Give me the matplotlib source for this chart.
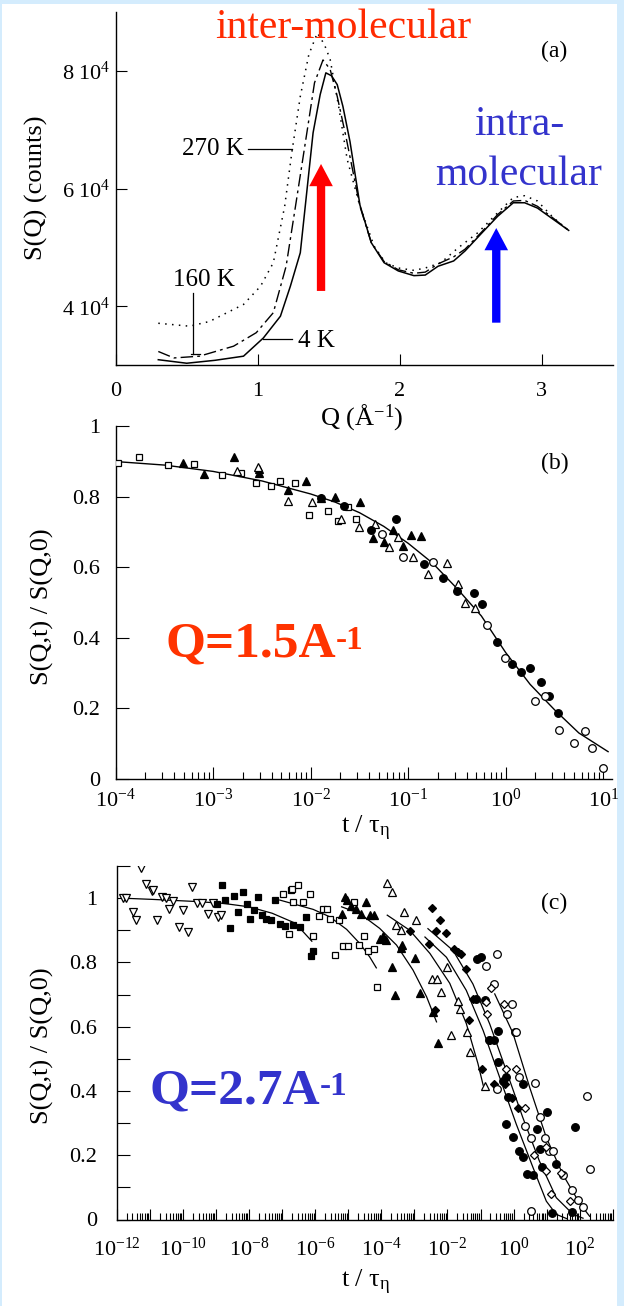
import numpy as np
import matplotlib
matplotlib.use("Agg")
import matplotlib.pyplot as plt
from matplotlib.patches import Rectangle, FancyArrowPatch
from matplotlib.ticker import FixedLocator, FixedFormatter, NullFormatter

plt.rcParams['font.family'] = ['Liberation Serif', 'DejaVu Serif']
plt.rcParams['mathtext.fontset'] = 'custom'
plt.rcParams['mathtext.rm'] = 'Liberation Serif'
plt.rcParams['mathtext.it'] = 'Liberation Serif:italic'
plt.rcParams['mathtext.bf'] = 'Liberation Serif:bold'

# ---------------- panel (a): static structure factor S(Q) ----------------
q_4k = [0.30, 0.50, 0.70, 0.90, 1.04, 1.16, 1.23, 1.30, 1.39, 1.44, 1.48, 1.52,
        1.56, 1.60, 1.65, 1.72, 1.80, 1.89, 1.99, 2.10, 2.18, 2.27, 2.38, 2.46,
        2.58, 2.69, 2.80, 2.88, 2.97, 3.08, 3.19]
s_4k = [3.09, 3.03, 3.08, 3.15, 3.46, 3.83, 4.34, 4.91, 6.95, 7.60, 7.97, 7.92,
        7.77, 7.40, 6.80, 5.72, 5.08, 4.74, 4.60, 4.52, 4.53, 4.68, 4.77, 4.94,
        5.25, 5.53, 5.76, 5.76, 5.67, 5.48, 5.29]

q_160k = [0.30, 0.41, 0.59, 0.83, 0.99, 1.11, 1.20, 1.27, 1.35, 1.40, 1.46, 1.51,
          1.56, 1.62, 1.72, 1.80, 1.89, 1.99, 2.10, 2.18, 2.27, 2.38, 2.46, 2.58,
          2.69, 2.80, 2.88, 2.97, 3.08, 3.19]
s_160k = [3.23, 3.12, 3.15, 3.32, 3.55, 3.89, 4.68, 5.76, 7.01, 7.80, 8.19, 8.03,
          7.57, 6.90, 5.70, 5.08, 4.76, 4.62, 4.56, 4.58, 4.72, 4.84, 4.97, 5.27,
          5.56, 5.79, 5.80, 5.70, 5.50, 5.29]

q_270k = [0.30, 0.52, 0.66, 0.90, 1.02, 1.11, 1.19, 1.24, 1.30, 1.36, 1.42, 1.47,
          1.51, 1.57, 1.63, 1.72, 1.82, 1.90, 1.99, 2.10, 2.18, 2.29, 2.41, 2.55,
          2.69, 2.80, 2.88, 2.97, 3.08, 3.19]
s_270k = [3.71, 3.66, 3.74, 4.03, 4.34, 4.74, 5.70, 6.61, 7.57, 8.28, 8.65, 8.45,
          8.20, 7.40, 6.50, 5.70, 5.02, 4.74, 4.65, 4.61, 4.65, 4.74, 4.99, 5.25,
          5.59, 5.85, 5.88, 5.79, 5.51, 5.29]

a_xticks = [0, 1, 2, 3]
a_yticks = [4e4, 6e4, 8e4]
a_yticklabels = [r'$4\ 10^{4}$', r'$6\ 10^{4}$', r'$8\ 10^{4}$']

# ---------------- panel (b): Q = 1.5 A^-1, log10(t/tau) and S(Q,t)/S(Q,0) --------
b_sq_open_logt = [-3.98, -3.76, -3.46, -3.20, -2.91, -2.71, -2.56, -2.41, -2.32,
                  -2.16, -2.02, -1.82, -1.72, -1.62, -1.54]
b_sq_open_val = [0.897, 0.914, 0.890, 0.892, 0.862, 0.868, 0.840, 0.832, 0.845,
                 0.840, 0.748, 0.760, 0.731, 0.772, 0.737]
b_tri_fill_logt = [-3.31, -3.09, -2.79, -2.53, -2.53, -2.23, -2.05, -1.89, -1.75,
                   -1.49, -1.36, -1.25, -1.16, -1.05, -0.97, -0.87]
b_tri_fill_val = [0.897, 0.864, 0.912, 0.868, 0.880, 0.819, 0.845, 0.798, 0.800,
                  0.785, 0.684, 0.673, 0.705, 0.661, 0.691, 0.689]
b_tri_open_logt = [-2.76, -2.54, -2.23, -1.99, -1.69, -1.50, -1.34, -1.20, -1.10,
                   -0.95, -0.80, -0.60, -0.49, -0.42, -0.32]
b_tri_open_val = [0.874, 0.884, 0.788, 0.786, 0.737, 0.713, 0.722, 0.659, 0.685,
                  0.628, 0.580, 0.613, 0.552, 0.498, 0.485]
b_circ_fill_logt = [-1.89, -1.66, -1.38, -1.13, -0.84, -0.64, -0.50, -0.33, -0.24,
                    -0.09, 0.06, 0.16, 0.25, 0.36, 0.44, 0.54]
b_circ_fill_val = [0.796, 0.774, 0.706, 0.736, 0.609, 0.569, 0.533, 0.526, 0.495,
                   0.389, 0.325, 0.302, 0.313, 0.274, 0.235, 0.188]
b_circ_open_logt = [-1.27, -1.05, -0.75, -0.19, -0.01, 0.30, 0.40, 0.55, 0.70,
                    0.81, 0.89, 1.00]
b_circ_open_val = [0.694, 0.628, 0.616, 0.436, 0.342, 0.220, 0.235, 0.139, 0.101,
                   0.136, 0.086, 0.030]
b_fit_logt = [-4.0, -3.5, -3.0, -2.5, -2.0, -1.75, -1.5, -1.25, -1.0, -0.75, -0.5,
              -0.25, 0.0, 0.25, 0.5, 0.75, 1.05]
b_fit_val = [0.900, 0.890, 0.872, 0.845, 0.808, 0.785, 0.755, 0.716, 0.668, 0.612,
             0.540, 0.462, 0.358, 0.268, 0.196, 0.130, 0.077]
b_ticklabels_x = [r'$10^{-4}$', r'$10^{-3}$', r'$10^{-2}$', r'$10^{-1}$',
                  r'$10^{0}$', r'$10^{1}$']
b_ticklabels_y = ['0', '0.2', '0.4', '0.6', '0.8', '1']

# ---------------- panel (c): Q = 2.7 A^-1 ----------------
c_tdown_open_logt = [-11.80, -11.72, -11.28, -11.50, -11.42, -11.11, -10.94, -10.89,
                     -10.64, -10.52, -10.41, -10.29, -10.77, -10.13, -10.01, -9.84,
                     -9.73, -9.56, -9.43, -9.25, -9.10, -8.93, -8.86]
c_tdown_open_val = [1.000, 1.000, 1.095, 0.957, 0.931, 1.045, 1.022, 1.026, 1.003,
                    1.000, 0.967, 0.991, 0.933, 0.910, 0.964, 0.894, 1.035, 0.985,
                    0.985, 0.951, 0.985, 0.941, 0.949]
c_sq_fill_logt = [-8.83, -8.98, -8.73, -8.58, -8.45, -8.18, -8.34, -8.07, -7.97,
                  -7.85, -7.72, -7.62, -7.50, -7.32, -7.20, -7.07, -6.92, -6.74,
                  -6.66, -6.46, -6.28, -6.14, -6.06]
c_sq_fill_val = [1.042, 0.983, 0.995, 0.908, 1.006, 1.019, 0.957, 0.983, 0.936,
                 0.962, 1.005, 0.948, 0.936, 0.931, 0.993, 0.918, 0.912, 1.026,
                 0.915, 0.910, 0.941, 0.821, 0.834]
c_sq_open_logt = [-6.98, -6.71, -6.51, -6.66, -6.36, -6.16, -6.79, -6.06, -5.88,
                  -5.75, -5.64, -5.56, -5.40, -5.15, -5.00, -4.83, -4.68, -4.53,
                  -4.40, -4.23, -5.27, -4.14]
c_sq_open_val = [1.014, 1.029, 1.040, 0.988, 0.988, 1.014, 0.889, 0.881, 0.943,
                 0.967, 0.967, 0.934, 0.824, 0.851, 0.851, 0.988, 0.853, 0.881,
                 0.837, 0.842, 0.931, 0.723]
c_tri_fill_logt = [-5.10, -5.03, -4.93, -4.75, -4.62, -4.45, -4.33, -4.23, -5.20,
                   -4.04, -3.96, -3.86, -3.69, -3.59, -3.39, -3.36, -2.99, -2.82,
                   -2.43, -2.30]
c_tri_fill_val = [1.005, 0.993, 0.977, 0.967, 0.951, 0.988, 0.946, 0.948, 0.951,
                  0.873, 0.881, 0.870, 0.787, 0.699, 0.845, 0.853, 0.813, 0.704,
                  0.645, 0.548]
c_tri_open_logt = [-3.82, -3.69, -3.32, -2.94, -3.56, -3.41, -2.48, -2.31, -2.01,
                   -2.18, -1.88, -1.68, -1.61, -1.41, -1.31, -0.87]
c_tri_open_val = [1.047, 1.019, 0.957, 0.931, 0.915, 0.901, 0.749, 0.749, 0.787,
                  0.707, 0.574, 0.679, 0.655, 0.584, 0.522, 0.416]
c_dia_fill_logt = [-2.48, -2.21, -3.14, -2.55, -2.35, -2.03, -1.81, -1.68, -1.58,
                   -1.45, -2.38, -1.35, -1.23, -0.72, -0.94, -0.60, -0.27, -0.04,
                   0.13]
c_dia_fill_val = [0.970, 0.933, 0.899, 0.856, 0.899, 0.891, 0.842, 0.832, 0.827,
                  0.780, 0.652, 0.621, 0.686, 0.558, 0.468, 0.421, 0.421, 0.377,
                  0.348]
c_circ_fill_logt = [-1.12, -0.97, -1.14, -0.87, -0.74, -0.60, -0.47, -0.47, -0.24,
                    -0.32, -0.17, -0.22, -0.02, 0.03, 0.17, 0.27, 0.29, 0.42, 0.59,
                    0.71, 0.79, 0.87, 1.01, 1.27, 1.85, 1.17, 1.78]
c_circ_fill_val = [0.811, 0.816, 0.686, 0.683, 0.558, 0.558, 0.587, 0.489, 0.442,
                   0.431, 0.380, 0.298, 0.257, 0.582, 0.213, 0.194, 0.423, 0.142,
                   0.138, 0.281, 0.220, 0.163, 0.335, 0.172, 0.288, 0.021, 0.024]
c_circ_open_logt = [-0.50, -0.82, -0.60, -0.20, -0.06, 0.06, 0.16, 0.64, -0.50,
                    0.34, 0.54, 0.79, 0.94, 1.07, 1.19, 1.49, 1.78, 2.22, 2.32,
                    1.95, 2.10, 0.52]
c_circ_open_val = [0.825, 0.790, 0.733, 0.641, 0.671, 0.584, 0.444, 0.424, 0.405,
                   0.291, 0.255, 0.319, 0.253, 0.213, 0.213, 0.138, 0.091, 0.385,
                   0.156, 0.062, 0.040, 0.026]
c_dia_open_logt = [-0.84, -0.80, -0.67, -0.30, -0.22, 0.08, 0.35, 0.62, 0.97, 0.99,
                   1.14, 1.44, 1.70]
c_dia_open_val = [0.676, 0.639, 0.720, 0.671, 0.468, 0.468, 0.348, 0.201, 0.226,
                  0.151, 0.080, 0.146, 0.059]

c_fit1_logt = [-11.85, -10.9, -9.7, -8.8, -8.0, -7.3, -6.6, -6.1]
c_fit1_val = [1.000, 0.996, 0.990, 0.984, 0.973, 0.953, 0.922, 0.866]
c_fit2_logt = [-7.07, -6.06, -5.56, -5.05, -4.65, -4.35, -4.15]
c_fit2_val = [0.994, 0.965, 0.942, 0.903, 0.859, 0.817, 0.783]
c_fit3_logt = [-5.20, -4.65, -4.05, -3.54, -3.04, -2.63, -2.33]
c_fit3_val = [0.973, 0.952, 0.906, 0.854, 0.776, 0.693, 0.615]
c_fit4_logt = [-3.82, -3.14, -2.53, -1.93, -1.43, -1.08, -0.92]
c_fit4_val = [0.947, 0.900, 0.828, 0.735, 0.610, 0.486, 0.418]
c_fit5_logt = [-2.68, -2.03, -1.43, -0.92, -0.42, 0.08, 0.59, 0.99, 1.29, 1.60]
c_fit5_val = [0.879, 0.816, 0.713, 0.588, 0.442, 0.297, 0.161, 0.057, 0.016, 0.003]
c_fit6_logt = [-2.59, -1.83, -1.23, -0.72, -0.22, 0.28, 0.78, 1.29, 1.80, 2.10]
c_fit6_val = [0.905, 0.837, 0.733, 0.608, 0.463, 0.317, 0.182, 0.068, 0.016, 0.004]
c_fit7_logt = [-0.57, -0.02, 0.49, 0.99, 1.49, 2.00, 2.30]
c_fit7_val = [0.702, 0.580, 0.410, 0.255, 0.140, 0.050, 0.010]
c_ticklabels_x = [r'$10^{-12}$', r'$10^{-10}$', r'$10^{-8}$', r'$10^{-6}$',
                  r'$10^{-4}$', r'$10^{-2}$', r'$10^{0}$', r'$10^{2}$']
c_ticklabels_y = ['0', '', '0.2', '', '0.4', '', '0.6', '', '0.8', '', '1', '']

# ---------------- figure ----------------
W, H = 624, 1306
fig = plt.figure(figsize=(W / 100, H / 100), dpi=100)
fig.patch.set_facecolor('#d4ecfd')
fig.patches.append(Rectangle((2 / W, 0), 615 / W, (H - 4) / H, transform=fig.transFigure,
                             facecolor='white', edgecolor='none', zorder=-10))

TICK_FS = 16
LAB_FS = 19


def px_axes(left, right, top, bottom):
    return fig.add_axes([left / W, 1 - bottom / H, (right - left) / W, (bottom - top) / H])


def style(ax):
    ax.set_facecolor('none')
    for s in ('top', 'right'):
        ax.spines[s].set_visible(False)
    for s in ('left', 'bottom'):
        ax.spines[s].set_linewidth(1.0)
    ax.tick_params(which='both', direction='in', width=0.8, labelsize=TICK_FS)


def pts(logt, val):
    return 10.0 ** np.asarray(logt), np.asarray(val)


# ----- (a) -----
ax_a = px_axes(115.7, 612.7, 12.3, 365)
style(ax_a)
ax_a.plot(q_4k, np.asarray(s_4k) * 1e4, color='black', lw=1.1)
ax_a.plot(q_160k, np.asarray(s_160k) * 1e4, color='black', lw=1.0,
          dashes=(9, 3, 2, 3))
ax_a.plot(q_270k, np.asarray(s_270k) * 1e4, color='black', lw=1.1,
          dashes=(1, 3.5))
ax_a.set_xlim(0, 3.5)
ax_a.set_ylim(3e4, 9e4)
ax_a.xaxis.set_major_locator(FixedLocator(a_xticks))
ax_a.xaxis.set_major_formatter(FixedFormatter([str(v) for v in a_xticks]))
ax_a.yaxis.set_major_locator(FixedLocator(a_yticks))
ax_a.yaxis.set_major_formatter(FixedFormatter(a_yticklabels))
ax_a.tick_params(axis='x', length=8, pad=12)
ax_a.tick_params(axis='y', length=8, pad=4)

# temperature labels with pointer lines
ax_a.text(0.90, 6.67e4, '270 K', ha='right', va='center', fontsize=18)
ax_a.plot([0.93, 1.24], [6.68e4, 6.68e4], color='black', lw=0.9)
ax_a.text(0.623, 4.45e4, '160 K', ha='center', va='center', fontsize=18)
ax_a.plot([0.542, 0.542], [4.23e4, 3.18e4], color='black', lw=0.9)
ax_a.plot([0.53, 0.595], [3.18e4, 3.18e4], color='black', lw=0.9)
ax_a.text(1.284, 3.40e4, '4 K', ha='left', va='center', fontsize=18)
ax_a.plot([1.037, 1.24], [3.45e4, 3.45e4], color='black', lw=0.9)
ax_a.text(3.09, 8.34e4, '(a)', ha='center', va='center', fontsize=17)

ax_a.text(1.603, 8.57e4, 'inter-molecular', ha='center', va='baseline',
          fontsize=30, color='#ff2a00', clip_on=False)
ax_a.text(2.84, 6.92e4, 'intra-', ha='center', va='baseline', fontsize=30,
          color='#3333cc')
ax_a.text(2.84, 6.07e4, 'molecular', ha='center', va='baseline', fontsize=30,
          color='#3333cc')

arrow_style = 'simple,head_length=16,head_width=17,tail_width=6'
ax_a.add_patch(FancyArrowPatch((1.446, 4.26e4), (1.446, 6.42e4), arrowstyle=arrow_style,
                               mutation_scale=1, color='#ff0000', lw=0,
                               shrinkA=0, shrinkB=0, zorder=5))
ax_a.add_patch(FancyArrowPatch((2.68, 3.72e4), (2.68, 5.33e4), arrowstyle=arrow_style,
                               mutation_scale=1, color='#0000ff', lw=0,
                               shrinkA=0, shrinkB=0, zorder=5))

fig.text(362 / W, 1 - 418 / H, r'Q (Å$^{-1}$)', ha='center', va='center',
         fontsize=LAB_FS)
fig.text(36 / W, 1 - 188 / H, 'S(Q) (counts)', rotation=90, ha='center',
         va='center', fontsize=LAB_FS)

# ----- (b) -----
ax_b = px_axes(115.7, 611.7, 426.3, 778.8)
style(ax_b)
ax_b.set_xscale('log')
ax_b.set_xlim(1e-4, 10 ** 1.087)
ax_b.set_ylim(0, 1.0)
ax_b.plot(*pts(b_fit_logt, b_fit_val), color='black', lw=1.0, zorder=2)
mk = dict(ls='none', mec='black', mew=0.9, zorder=3)
ax_b.plot(*pts(b_sq_open_logt, b_sq_open_val), marker='s', mfc='white', ms=5, **mk)
ax_b.plot(*pts(b_tri_fill_logt, b_tri_fill_val), marker='^', mfc='black', ms=5.5, **mk)
ax_b.plot(*pts(b_tri_open_logt, b_tri_open_val), marker='^', mfc='white', ms=5.5, **mk)
ax_b.plot(*pts(b_circ_fill_logt, b_circ_fill_val), marker='o', mfc='black', ms=5.5, **mk)
ax_b.plot(*pts(b_circ_open_logt, b_circ_open_val), marker='o', mfc='white', ms=5.5, **mk)
ax_b.xaxis.set_major_locator(FixedLocator([1e-4, 1e-3, 1e-2, 1e-1, 1e0, 1e1]))
ax_b.xaxis.set_major_formatter(FixedFormatter(b_ticklabels_x))
ax_b.xaxis.set_minor_locator(matplotlib.ticker.LogLocator(base=10, subs=np.arange(2, 10)))
ax_b.xaxis.set_minor_formatter(NullFormatter())
ax_b.yaxis.set_major_locator(FixedLocator([0, 0.2, 0.4, 0.6, 0.8, 1.0]))
ax_b.yaxis.set_major_formatter(FixedFormatter(b_ticklabels_y))
ax_b.tick_params(axis='x', which='major', length=9, pad=7)
ax_b.tick_params(axis='x', which='minor', length=5)
ax_b.tick_params(axis='y', length=9, pad=11)
ax_b.text(10 ** 0.506, 0.895, '(b)', ha='center', va='center', fontsize=17)

t15 = ax_b.text(10 ** -3.494, 0.346, 'Q=1.5A', ha='left', va='baseline',
                fontsize=37, fontweight='bold', color='#ff3300')
ax_b.annotate('-1', xy=(1.0, 0.93), xycoords=t15, ha='left', va='top',
              fontsize=24, fontweight='bold', color='#ff3300')

fig.text(365 / W, 1 - 833 / H, r'$\mathrm{t\ /\ \tau_{\eta}}$', ha='center',
         va='baseline', fontsize=LAB_FS)
fig.text(42 / W, 1 - 607 / H, 'S(Q,t) / S(Q,0)', rotation=90, ha='center',
         va='center', fontsize=LAB_FS)

# ----- (c) -----
ax_c = px_axes(116.7, 612.8, 866, 1219.5)
style(ax_c)
ax_c.set_xscale('log')
ax_c.set_xlim(1e-12, 1e3)
ax_c.set_ylim(0, 1.1)
for lt, v in [(c_fit1_logt, c_fit1_val), (c_fit2_logt, c_fit2_val),
              (c_fit3_logt, c_fit3_val), (c_fit4_logt, c_fit4_val),
              (c_fit5_logt, c_fit5_val), (c_fit6_logt, c_fit6_val),
              (c_fit7_logt, c_fit7_val)]:
    ax_c.plot(*pts(lt, v), color='black', lw=0.9, zorder=2)
ax_c.plot(*pts(c_tdown_open_logt, c_tdown_open_val), marker='v', mfc='white', ms=5.5, **mk)
ax_c.plot(*pts(c_sq_fill_logt, c_sq_fill_val), marker='s', mfc='black', ms=5, **mk)
ax_c.plot(*pts(c_sq_open_logt, c_sq_open_val), marker='s', mfc='white', ms=5, **mk)
ax_c.plot(*pts(c_tri_fill_logt, c_tri_fill_val), marker='^', mfc='black', ms=5.5, **mk)
ax_c.plot(*pts(c_tri_open_logt, c_tri_open_val), marker='^', mfc='white', ms=5.5, **mk)
ax_c.plot(*pts(c_dia_fill_logt, c_dia_fill_val), marker='D', mfc='black', ms=4, **mk)
ax_c.plot(*pts(c_circ_fill_logt, c_circ_fill_val), marker='o', mfc='black', ms=5.5, **mk)
ax_c.plot(*pts(c_circ_open_logt, c_circ_open_val), marker='o', mfc='white', ms=5.5, **mk)
ax_c.plot(*pts(c_dia_open_logt, c_dia_open_val), marker='D', mfc='white', ms=4, **mk)
ax_c.xaxis.set_major_locator(FixedLocator([10.0 ** k for k in range(-12, 4)]))
ax_c.xaxis.set_major_formatter(FixedFormatter(
    [c_ticklabels_x[i // 2] if i % 2 == 0 else '' for i in range(16)]))
ax_c.xaxis.set_minor_locator(matplotlib.ticker.LogLocator(base=10, subs=np.arange(2, 10), numticks=100))
ax_c.xaxis.set_minor_formatter(NullFormatter())
ax_c.yaxis.set_major_locator(FixedLocator(np.arange(0, 12) / 10))
ax_c.yaxis.set_major_formatter(FixedFormatter(c_ticklabels_y))
ax_c.tick_params(axis='x', which='major', length=8, pad=13)
ax_c.tick_params(axis='x', which='minor', length=5)
ax_c.tick_params(axis='y', length=9, pad=14)
ax_c.text(10 ** 1.24, 0.984, '(c)', ha='center', va='center', fontsize=17)

t27 = ax_c.text(10 ** -11.02, 0.362, 'Q=2.7A', ha='left', va='baseline',
                fontsize=37, fontweight='bold', color='#3333cc')
ax_c.annotate('-1', xy=(1.0, 0.93), xycoords=t27, ha='left', va='top',
              fontsize=24, fontweight='bold', color='#3333cc')

fig.text(365 / W, 1 - 1287 / H, r'$\mathrm{t\ /\ \tau_{\eta}}$', ha='center',
         va='baseline', fontsize=LAB_FS)
fig.text(42 / W, 1 - 1046 / H, 'S(Q,t) / S(Q,0)', rotation=90, ha='center',
         va='center', fontsize=LAB_FS)

fig.savefig('out.png', dpi=100, facecolor=fig.get_facecolor())
